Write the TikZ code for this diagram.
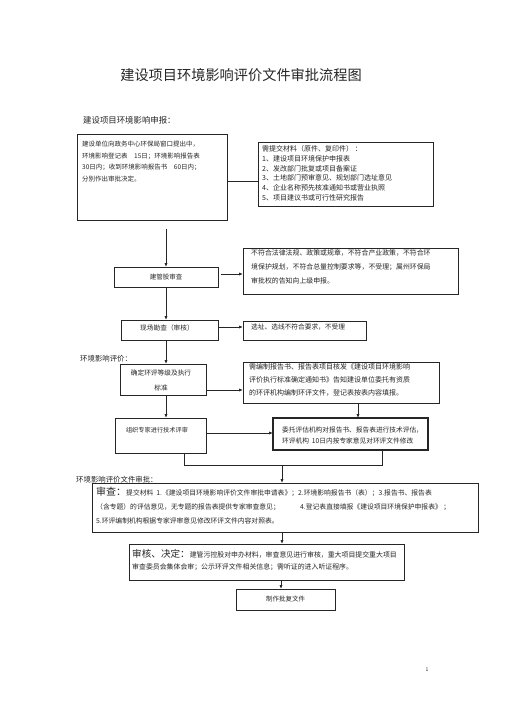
\documentclass[tikz,border=0pt]{standalone}
\usepackage{fontspec}
\setmainfont{Noto Sans CJK SC}
\usetikzlibrary{arrows.meta,calc}
\begin{document}
\begin{tikzpicture}[x=1pt,y=-1pt,
  box/.style={draw=black!85, line width=0.8pt, inner sep=0pt, outer sep=0pt, anchor=north west},
  txt/.style={inner sep=0pt, text=black!85, align=left},
  ln/.style={draw=black!85, line width=0.8pt},
  arr/.style={ln, -{Latex[length=4pt,width=3.2pt]}},
  head/.style={inner sep=0pt, text=black!85, anchor=west}
]
\useasboundingbox (0,0) rectangle (505,714);
\fill[white] (0,0) rectangle (505,714);

% title and section headings
\node[inner sep=0pt, text=black!85, font=\fontsize{14.2}{16}\selectfont] (title) at (241,75) {建设项目环境影响评价文件审批流程图};
\node[head, font=\fontsize{8.4}{10}\selectfont] (h1) at (83,120) {建设项目环境影响申报：};
\node[head, font=\fontsize{7.4}{9}\selectfont] (h2) at (80,359) {环境影响评价：};
\node[head, font=\fontsize{7.4}{9}\selectfont] (h3) at (76,480) {环境影响评价文件审批：};

% boxes
\node[box, minimum width=150pt, minimum height=86pt] (b1) at (77,134) {};
\node[box, minimum width=175pt, minimum height=64pt] (b2) at (258,142) {};
\node[box, minimum width=104pt, minimum height=20pt, anchor=north west] (b3) at (114,267) {};
\node[box, minimum width=215pt, minimum height=46pt] (b4) at (243,248) {};
\node[box, minimum width=97pt, minimum height=20pt] (b5) at (121,320) {};
\node[box, minimum width=123pt, minimum height=19pt] (b6) at (243,321) {};
\node[box, minimum width=86pt, minimum height=31pt] (b7) at (120,364) {};
\node[box, minimum width=196pt, minimum height=41pt] (b8) at (243,362) {};
\node[box, minimum width=91pt, minimum height=35pt] (b9) at (115,418) {};
\node[box, minimum width=155pt, minimum height=32pt, line width=1.1pt] (b10) at (273,418) {};
\node[box, minimum width=386pt, minimum height=49pt] (b11) at (92,483) {};
\node[box, minimum width=275pt, minimum height=36pt] (b12) at (129,544) {};
\node[box, minimum width=99pt, minimum height=21pt] (b13) at (236,589) {};

% texts
\node[txt, anchor=north west, font=\fontsize{6.5}{11.7}\selectfont] (t1) at (82,140.8)
 {建设单位向政务中心环保局窗口提出中，\\环境影响登记表\quad 15日；环境影响报告表\\30日内；收到环境影响报告书\quad 60日内；\\分别作出审批决定。};
\node[txt, anchor=north west, font=\fontsize{7}{9.7}\selectfont] (t2) at (262,145.5)
 {需提交材料（原件、复印件）\ ：\\1、建设项目环境保护申报表\\2、发改部门批复或项目备案证\\3、土地部门预审意见、规划部门选址意见\\4、企业名称预先核准通知书或营业执照\\5、项目建议书或可行性研究报告};
\node[txt, font=\fontsize{6.5}{8}\selectfont] (t3) at (b3.center) {建管股审查};
\node[txt, anchor=north west, font=\fontsize{6.9}{14}\selectfont] (t4) at (251,249.5)
 {不符合法律法规、政策或规章，不符合产业政策，不符合环\\境保护规划，不符合总量控制要求等，不受理；属州环保局\\审批权的告知向上级申报。};
\node[txt, font=\fontsize{6.7}{8}\selectfont] (t5) at (167,328) {现场勘查（审核）};
\node[txt, anchor=west, font=\fontsize{6.7}{8}\selectfont] (t6) at (251,327) {选址、选线不符合要求，不受理};
\node[txt, align=center, font=\fontsize{6.7}{15}\selectfont] (t7) at (161,380) {确定环评等级及执行\\标准};
\node[txt, anchor=north west, font=\fontsize{7}{13}\selectfont] (t8) at (249,363.5)
 {需编制报告书、报告表项目核发《建设项目环境影响\\评价执行标准确定通知书》告知建设单位委托有资质\\的环评机构编制环评文件，登记表按表内容填报。};
\node[txt, font=\fontsize{6.2}{8}\selectfont] (t9) at (157,430) {组织专家进行技术评审};
\node[txt, anchor=north west, font=\fontsize{6.7}{11.5}\selectfont] (t10) at (282,426.6)
 {委托评估机构对报告书、报告表进行技术评估，\\环评机构\ \ 10日内按专家意见对环评文件修改};
\node[txt, anchor=north west, font=\fontsize{6.8}{14}\selectfont] (t11) at (96,487)
 {{\fontsize{10}{14}\selectfont 审查：}提交材料\ \ 1.《建设项目环境影响评价文件审批申请表》；2.环境影响报告书（表）；3.报告书、报告表\\（含专题）的评估意见，无专题的报告表提供专家审查意见；\qquad\quad 4.登记表直接填报《建设项目环境保护申报表》\ ；\\5.环评编制机构根据专家评审意见修改环评文件内容对照表。};
\node[txt, anchor=north west, font=\fontsize{6.9}{12.5}\selectfont] (t12) at (132,549)
 {{\fontsize{9.6}{12.5}\selectfont 审核、决定：}建管污控股对申办材料，审查意见进行审核，重大项目提交重大项目\\审查委员会集体会审；公示环评文件相关信息；需听证的进入听证程序。};
\node[txt, font=\fontsize{6.5}{8}\selectfont] (t13) at (b13.center) {制作批复文件};
\node[txt, font=\fontsize{5}{6}\selectfont] (pg) at (427,670) {1};

% connectors
\draw[ln] (b1.east |- 0,181) -- (b2.west |- 0,181);
\draw[arr, shorten <=9pt] (b3.north |- b1.south) -- (b3.north);
\draw[arr, shorten <=3pt] (b3.east |- 0,274) -- (b4.west |- 0,274);
\draw[arr] (b3.south) -- (b3.south |- b5.north);
\draw[arr] (b5.east |- 0,327) -- (b6.west |- 0,327);
\draw[arr] (b3.south |- b5.south) -- (b3.south |- b7.north);
\draw[arr] (b7.east |- 0,390) -- (b8.west |- 0,390);
\draw[arr] (b3.south |- b7.south) -- (b3.south |- b9.north);
\draw[arr] (b8.south -| 358,0) -- (358,0 |- b10.north);
\draw[arr] (b9.east |- 0,433) -- (b10.west |- 0,433);
\coordinate (jl) at (184,465);
\coordinate (jr) at (382,465);
\coordinate (j) at (282,465);
\draw[ln] (b9.south -| jl) -- (jl) -- (jr) -- (b10.south -| jr);
\draw[arr] (j) -- (j |- b11.north);
\draw[arr] (j |- b11.south) -- (j |- b12.north);
\coordinate (k) at (281,0);
\draw[arr] (k |- b12.south) -- (k |- b13.north);
\end{tikzpicture}
\end{document}
